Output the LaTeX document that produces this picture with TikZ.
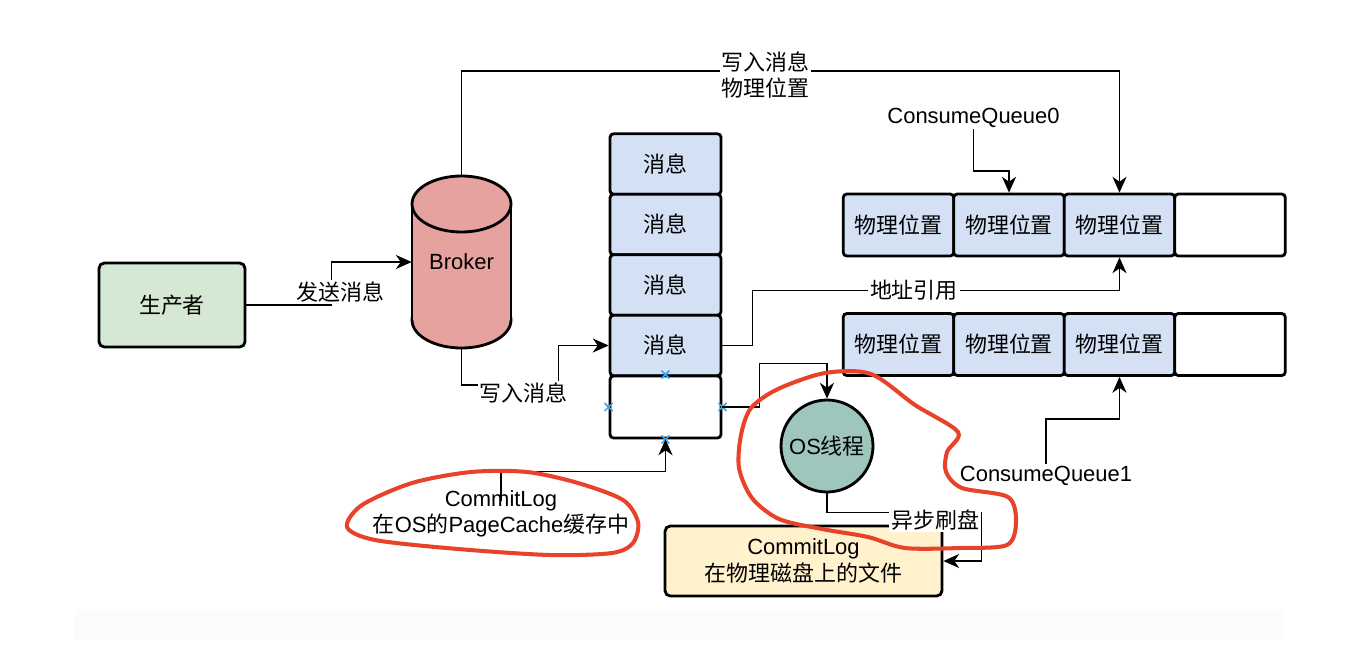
\documentclass[tikz,border=0pt]{standalone}
\usepackage{fontspec}
\setmainfont{Liberation Sans}
\newfontfamily\cjk{Noto Sans CJK SC}
\usetikzlibrary{positioning,calc,arrows.meta}
\definecolor{prodgreen}{HTML}{D5E8D4}
\definecolor{brokerpink}{HTML}{E6A29E}
\definecolor{msgblue}{HTML}{D4E1F5}
\definecolor{osgreen}{HTML}{9FC6BC}
\definecolor{diskyellow}{HTML}{FFF2CC}
\definecolor{markblue}{HTML}{3BA3E6}
\definecolor{redpen}{HTML}{E8432A}

\begin{document}
\begin{tikzpicture}[x=0.02cm, y=-0.02cm, font=\fontsize{12.5}{15}\selectfont,
        box/.style={rectangle, draw=black, line width=1.6pt, rounded corners=3pt, align=center},
        msg/.style={rectangle, draw=black, line width=1.6pt, rounded corners=2pt, fill=msgblue, minimum width=2.22cm, minimum height=1.21cm, inner sep=0pt},
        cell/.style={rectangle, draw=black, line width=1.6pt, rounded corners=2pt, fill=msgblue, minimum width=2.21cm, minimum height=1.24cm, inner sep=0pt},
        shapeline/.style={draw=black, line width=1.6pt},
        arrow/.style={-{Stealth[length=9pt, width=8pt, inset=2.8pt]}, line width=1pt},
        lbl/.style={fill=white, inner sep=1pt},
        xmark/.style={draw=markblue, line width=0.9pt},
        pen/.style={draw=redpen, line width=2.3pt, line cap=round, line join=round},
      ]
      \useasboundingbox (0,0) rectangle (1362,646);
      \fill [black!1] (74,610) rectangle (1284,640);

      \node [box, fill=prodgreen, minimum width=2.92cm, minimum height=1.68cm] (producer) at (172,305) {\cjk 生产者};

      % broker cylinder
      \filldraw [shapeline, fill=brokerpink] (461.5,320) ellipse [x radius=49.5, y radius=28];
      \fill [brokerpink] (412,204) rectangle (511,320);
      \draw [shapeline] (412,204) -- (412,320) (511,204) -- (511,320);
      \filldraw [shapeline, fill=brokerpink] (461.5,204) ellipse [x radius=49.5, y radius=28];
      \node [minimum width=1.98cm, minimum height=3.44cm] (broker) at (461.5,262) {Broker};

      % commit log stack
      \foreach \i/\y in {1/164, 2/224.5, 3/285, 4/345.5}
        \node [msg] (msg\i) at (665.5,\y) {\cjk 消息};
      \node [msg, fill=white, minimum height=1.24cm] (slot) at (665.5,407) {};
      \foreach \a in {north,south,east,west}
        \draw [xmark] (slot.\a) +(-4,-4) -- +(4,4) +(-4,4) -- +(4,-4);

      % consume queues
      \foreach \r/\y in {0/225, 1/344.5} {
        \foreach \c/\x in {1/898.5, 2/1009, 3/1119.5}
          \node [cell] (pos\r\c) at (\x,\y) {\cjk 物理位置};
        \node [cell, fill=white] (pos\r4) at (1230,\y) {};
      }

      \node [circle, draw=black, line width=1.6pt, fill=osgreen, minimum size=1.84cm, inner sep=0pt] (os) at (827,446) {OS{\cjk 线程}};
      \node [box, fill=diskyellow, minimum width=5.54cm, minimum height=1.4cm] (disk) at (803.5,561) {CommitLog\\{\cjk 在物理磁盘上的文件}};
      \node [lbl, inner ysep=-6pt, align=center] (pagecache) at (501,514) {CommitLog\\{\cjk 在}OS{\cjk 的}PageCache{\cjk 缓存中}};
      \node [lbl] (cq0) at (973.5,117.5) {ConsumeQueue0};
      \node [lbl] (cq1) at (1046,476) {ConsumeQueue1};

      \draw [arrow] (producer.east) -- ++(85,0) |- node [lbl, pos=0.15, xshift=5pt] {\cjk 发送消息} (broker.west);
      \draw [arrow] (broker.south) -- ++(0,37) -| node [lbl, pos=0.32, yshift=-4.5pt] {\cjk 写入消息} ($(msg4.west)+(-50,0)$) -- (msg4.west);
      \draw [arrow] (broker.north) -- ++(0,-105) -| node [lbl, align=center, pos=0.231, yshift=-2.5pt] {{\cjk 写入消息}\\{\cjk 物理位置}} (pos03.north);
      \draw [arrow] (cq0.south) -- ++(0,42) -| (pos02.north);
      \draw [arrow] (msg4.east) -- ++(30,0) |- node [lbl, pos=0.72] {\cjk 地址引用} ($(pos03.south)+(0,33)$) -- (pos03.south);
      \draw [arrow] (cq1.north) |- ($(pos13.south)+(0,42)$) -- (pos13.south);
      \draw [arrow] (slot.east) -- ++(37,0) |- ($(os.north)+(0,-35)$) -- (os.north);
      \draw [arrow] (pagecache.north) |- ($(slot.south)+(0,32)$) -- (slot.south);
      \draw [arrow] (os.south) -- ++(0,19) -| node [lbl, pos=0.35, yshift=-4.5pt] {\cjk 异步刷盘} ($(disk.east)+(38,0)$) -- (disk.east);

      % hand drawn marks
      \draw [pen] plot [smooth cycle] coordinates {(362,505) (412,483) (471,472) (527,472) (578,483) (623,500) (638,522) (633,543) (612,553) (550,555) (458,549) (375,540) (347,527)};
      \draw [pen] plot [smooth cycle] coordinates {(825,373) (871,374) (915,405) (958,432) (947,452) (946,472) (962,488) (1008,497) (1016,522) (1007,545) (960,548) (905,548) (868,537) (822,529) (779,519) (752,498) (739,468) (741,435) (751,408) (778,389)};
    \end{tikzpicture}
\end{document}
